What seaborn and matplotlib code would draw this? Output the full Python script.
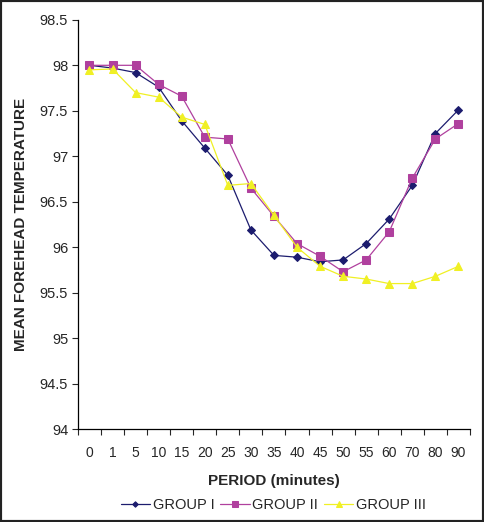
import numpy as np
import pandas as pd
import seaborn as sns
import matplotlib.pyplot as plt
from matplotlib.patches import Rectangle

periods = ["0", "1", "5", "10", "15", "20", "25", "30", "35", "40", "45",
           "50", "55", "60", "70", "80", "90"]
group_1 = [98.0, 97.97, 97.92, 97.76, 97.39, 97.09, 96.79, 96.19, 95.91, 95.89,
           95.84, 95.86, 96.04, 96.31, 96.68, 97.25, 97.51]
group_2 = [98.0, 98.0, 98.0, 97.79, 97.66, 97.21, 97.19, 96.65, 96.34, 96.04,
           95.90, 95.73, 95.86, 96.17, 96.76, 97.19, 97.36]
group_3 = [97.95, 97.96, 97.70, 97.65, 97.43, 97.35, 96.68, 96.70, 96.35, 96.0,
           95.79, 95.68, 95.65, 95.60, 95.60, 95.68, 95.79]
group_names = ["GROUP I", "GROUP II", "GROUP III"]

sns.set_style("white")
plt.rcParams["font.family"] = ["Liberation Sans", "DejaVu Sans"]

rows = []
for name, vals in zip(group_names, [group_1, group_2, group_3]):
    for i, v in enumerate(vals):
        rows.append({"pos": i, "period": periods[i], "group": name, "temp": v})
df = pd.DataFrame(rows)

colors = {"GROUP I": "#1c1c6e", "GROUP II": "#b0409e", "GROUP III": "#f0f024"}
markers = {"GROUP I": "D", "GROUP II": "s", "GROUP III": "^"}
msizes = {"GROUP I": 4, "GROUP II": 5.5, "GROUP III": 5.5}

fig = plt.figure(figsize=(4.84, 5.22), dpi=100)
ax = fig.add_axes([0.161, 0.178, 0.81, 0.784])

for name in group_names:
    sub = df[df["group"] == name]
    sns.lineplot(data=sub, x="pos", y="temp", ax=ax, color=colors[name],
                 marker=markers[name], markersize=msizes[name],
                 markeredgecolor=colors[name], linewidth=0.9, label=name)

ax.set_xlim(-0.5, len(periods) - 0.5)
ax.set_ylim(94, 98.5)
ax.set_yticks(np.arange(94, 98.51, 0.5))
ax.set_yticklabels(["94", "94.5", "95", "95.5", "96", "96.5", "97", "97.5", "98", "98.5"])
ax.set_xticks(range(len(periods)))
ax.set_xticklabels(periods)
ax.set_xticks(np.arange(-0.5, len(periods), 1), minor=True)
ax.tick_params(axis="x", which="major", length=0, pad=12, labelsize=10)
ax.tick_params(axis="x", which="minor", length=4, width=0.8, direction="out", bottom=True)
ax.tick_params(axis="y", length=4, width=0.8, direction="out", left=True, labelsize=10.5, pad=3)

for s in ["top", "right"]:
    ax.spines[s].set_visible(False)
for s in ["left", "bottom"]:
    ax.spines[s].set_color("black")
    ax.spines[s].set_linewidth(0.9)

ax.set_xlabel("PERIOD (minutes)", fontsize=11, fontweight="bold")
ax.xaxis.set_label_coords(0.5, -0.11)
ax.set_ylabel("MEAN FOREHEAD TEMPERATURE", fontsize=11, fontweight="bold")
ax.yaxis.set_label_coords(-0.128, 0.5)

handles, labels = ax.get_legend_handles_labels()
ax.get_legend().remove()
fig.legend(handles, labels, loc="center", bbox_to_anchor=(0.565, 0.032), ncol=3,
           frameon=False, fontsize=10.5, handlelength=2.0, handletextpad=0.2,
           columnspacing=0.4, markerscale=0.7)

fig.add_artist(Rectangle((0, 0), 1, 1, transform=fig.transFigure, fill=False,
                         edgecolor="#222222", linewidth=3))

fig.savefig("out.png", dpi=100)
